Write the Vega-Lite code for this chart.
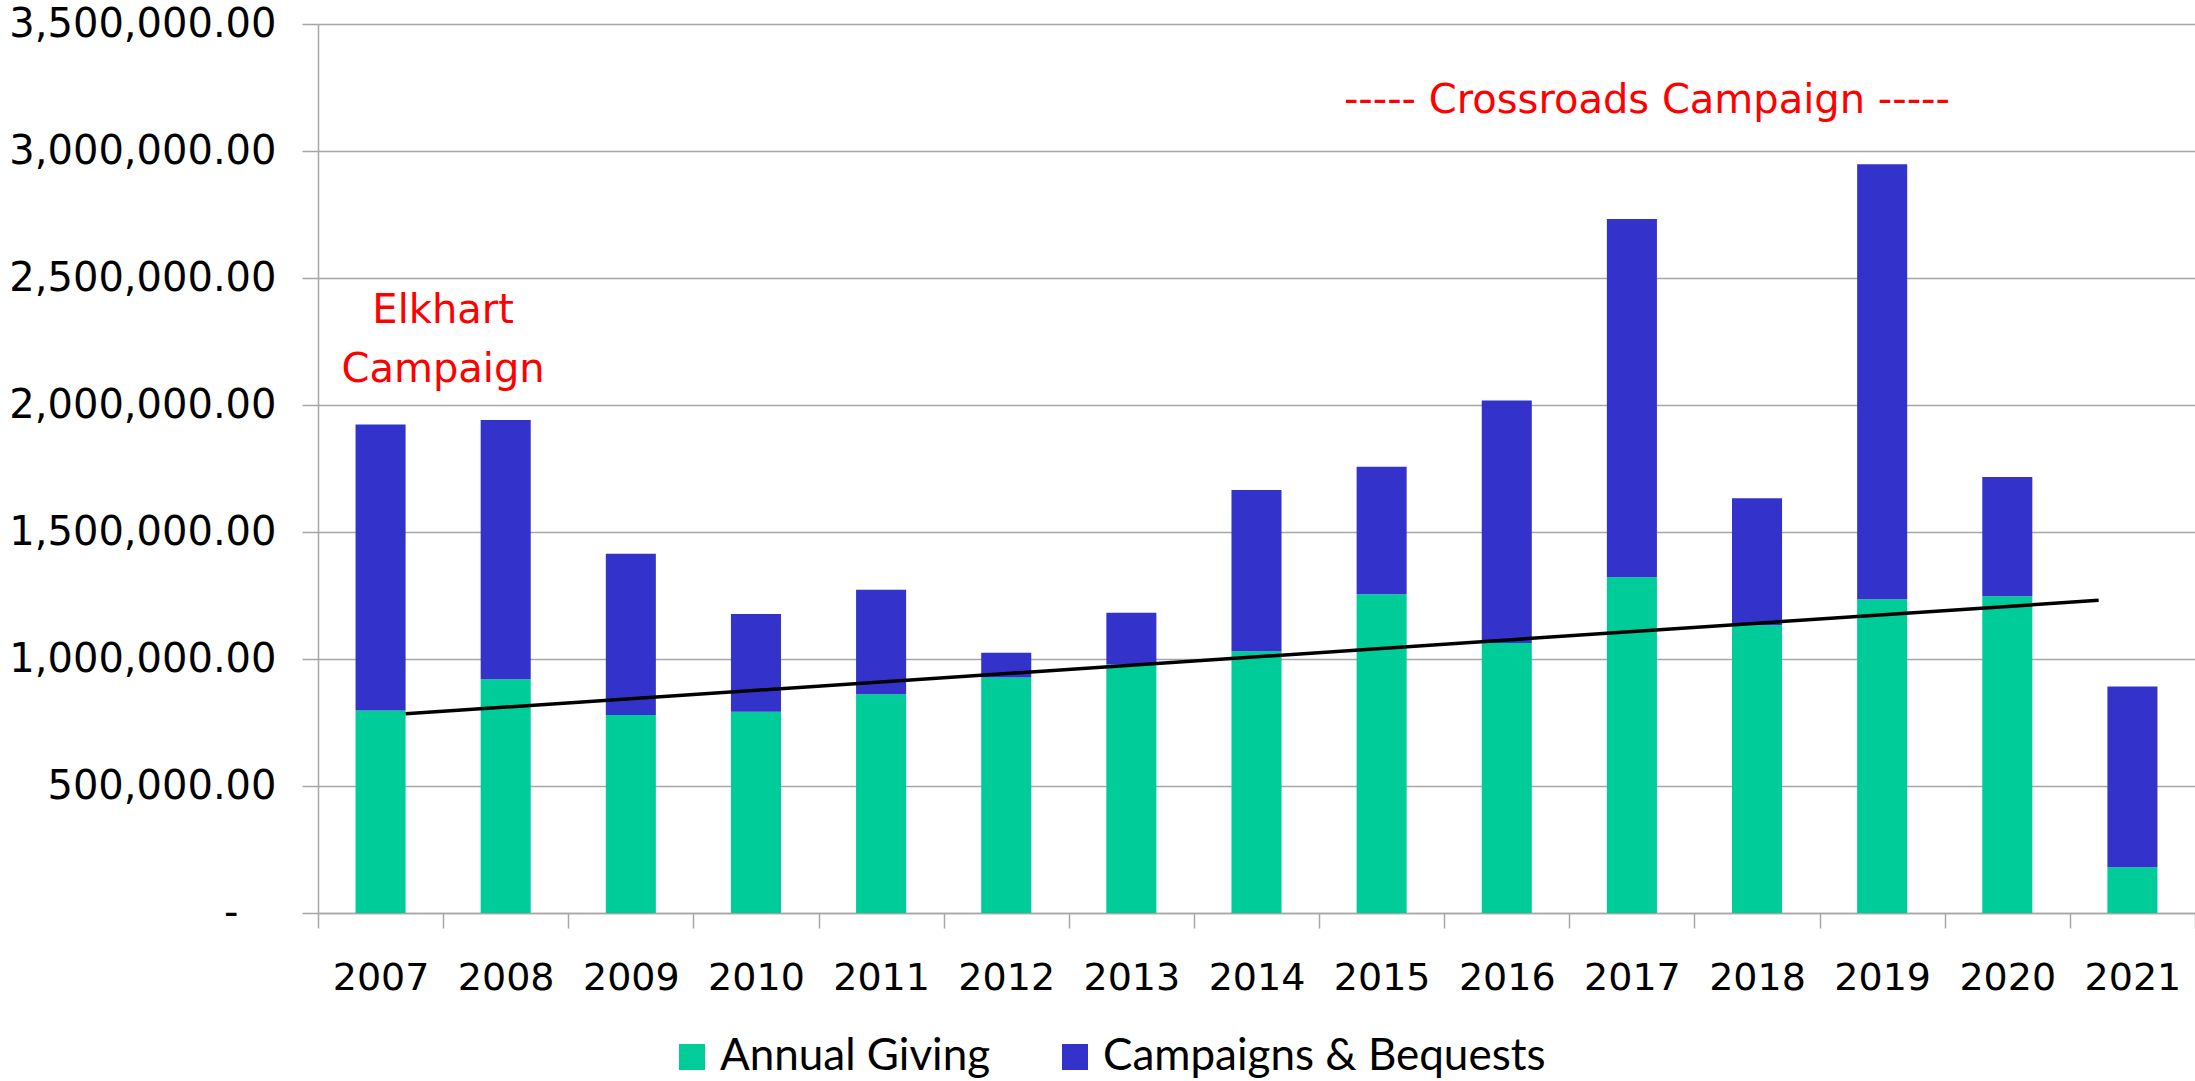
{
  "$schema": "https://vega.github.io/schema/vega-lite/v6.json",
  "autosize": {"type": "none"},
  "padding": {"left": 318, "top": 24, "right": 0, "bottom": 168},
  "width": 1877,
  "height": 889,
  "background": "white",
  "config": {"view": {"stroke": null}},
  "datasets": {
    "giving": [
      {"year": "2007", "type": "Annual Giving", "amount": 797000},
      {"year": "2007", "type": "Campaigns & Bequests", "amount": 1126000},
      {"year": "2008", "type": "Annual Giving", "amount": 920000},
      {"year": "2008", "type": "Campaigns & Bequests", "amount": 1021000},
      {"year": "2009", "type": "Annual Giving", "amount": 780000},
      {"year": "2009", "type": "Campaigns & Bequests", "amount": 634000},
      {"year": "2010", "type": "Annual Giving", "amount": 792000},
      {"year": "2010", "type": "Campaigns & Bequests", "amount": 385000},
      {"year": "2011", "type": "Annual Giving", "amount": 861000},
      {"year": "2011", "type": "Campaigns & Bequests", "amount": 412000},
      {"year": "2012", "type": "Annual Giving", "amount": 927000},
      {"year": "2012", "type": "Campaigns & Bequests", "amount": 98000},
      {"year": "2013", "type": "Annual Giving", "amount": 978000},
      {"year": "2013", "type": "Campaigns & Bequests", "amount": 204000},
      {"year": "2014", "type": "Annual Giving", "amount": 1031000},
      {"year": "2014", "type": "Campaigns & Bequests", "amount": 634000},
      {"year": "2015", "type": "Annual Giving", "amount": 1255000},
      {"year": "2015", "type": "Campaigns & Bequests", "amount": 502000},
      {"year": "2016", "type": "Annual Giving", "amount": 1063000},
      {"year": "2016", "type": "Campaigns & Bequests", "amount": 955000},
      {"year": "2017", "type": "Annual Giving", "amount": 1322000},
      {"year": "2017", "type": "Campaigns & Bequests", "amount": 1410000},
      {"year": "2018", "type": "Annual Giving", "amount": 1133000},
      {"year": "2018", "type": "Campaigns & Bequests", "amount": 500000},
      {"year": "2019", "type": "Annual Giving", "amount": 1235000},
      {"year": "2019", "type": "Campaigns & Bequests", "amount": 1713000},
      {"year": "2020", "type": "Annual Giving", "amount": 1247000},
      {"year": "2020", "type": "Campaigns & Bequests", "amount": 470000},
      {"year": "2021", "type": "Annual Giving", "amount": 180000},
      {"year": "2021", "type": "Campaigns & Bequests", "amount": 712000}
    ],
    "trend": [
      {"pos": 2007.2, "amount": 784000},
      {"pos": 2020.73, "amount": 1231000}
    ],
    "notes": [
      {"pos": 2007.5, "amount": 2372000, "label": "Elkhart\nCampaign"},
      {"pos": 2017.12, "amount": 3197000, "label": "----- Crossroads Campaign -----"}
    ]
  },
  "layer": [
    {
      "data": {"name": "giving"},
      "mark": {"type": "bar", "width": {"band": 0.4}},
      "encoding": {
        "x": {
          "field": "year", "type": "ordinal",
          "scale": {"paddingInner": 0, "paddingOuter": 0},
          "axis": {
            "title": null, "labelAngle": 0, "tickBand": "extent",
            "domainColor": "#a6a6a6", "domainWidth": 1.5,
            "tickColor": "#a6a6a6", "tickWidth": 1.5, "tickSize": 15,
            "labelFont": "DejaVu Sans", "labelFontSize": 38, "labelColor": "#000000",
            "labelPadding": 31, "grid": false
          }
        },
        "y": {
          "field": "amount", "type": "quantitative", "stack": "zero",
          "scale": {"domain": [0, 3500000], "nice": false},
          "axis": {
            "title": null,
            "values": [0, 500000, 1000000, 1500000, 2000000, 2500000, 3000000, 3500000],
            "labelExpr": "datum.value == 0 ? '-' : format(datum.value, ',.2f')",
            "labelLimit": 0,
            "domainColor": "#a6a6a6", "domainWidth": 1.5,
            "tickColor": "#a6a6a6", "tickWidth": 1.5, "tickSize": 16,
            "gridColor": "#a6a6a6", "gridWidth": 1.5,
            "labelFont": "DejaVu Sans", "labelFontSize": 40, "labelColor": "#000000",
            "labelPadding": {"condition": {"test": "datum.value == 0", "value": 64}, "value": 26}
          }
        },
        "color": {
          "field": "type", "type": "nominal",
          "scale": {"domain": ["Annual Giving", "Campaigns & Bequests"], "range": ["#00CC99", "#3333CC"]},
          "legend": {
            "title": null, "orient": "none", "direction": "horizontal",
            "legendX": 352, "legendY": 1011, "padding": 0,
            "symbolType": "square", "symbolSize": 676, "symbolStrokeWidth": 0,
            "labelFont": "Lato", "labelFontSize": 44, "labelColor": "#000000", "labelLimit": 0,
            "labelOffset": 6, "columnPadding": 62
          }
        },
        "order": {"field": "type", "sort": "ascending"}
      }
    },
    {
      "data": {"name": "trend"},
      "mark": {"type": "line", "color": "#000000", "strokeWidth": 3.5},
      "encoding": {
        "x": {"field": "pos", "type": "quantitative", "scale": {"domain": [2006.5, 2021.5], "nice": false, "zero": false}, "axis": null},
        "y": {"field": "amount", "type": "quantitative"}
      }
    },
    {
      "data": {"name": "notes"},
      "mark": {"type": "text", "color": "#FF0000", "font": "DejaVu Sans", "fontSize": 40, "lineBreak": "\n", "lineHeight": 59, "align": "center", "baseline": "middle"},
      "encoding": {
        "x": {"field": "pos", "type": "quantitative", "scale": {"domain": [2006.5, 2021.5], "nice": false, "zero": false}, "axis": null},
        "y": {"field": "amount", "type": "quantitative"},
        "text": {"field": "label"}
      }
    }
  ],
  "resolve": {"scale": {"x": "independent"}}
}
